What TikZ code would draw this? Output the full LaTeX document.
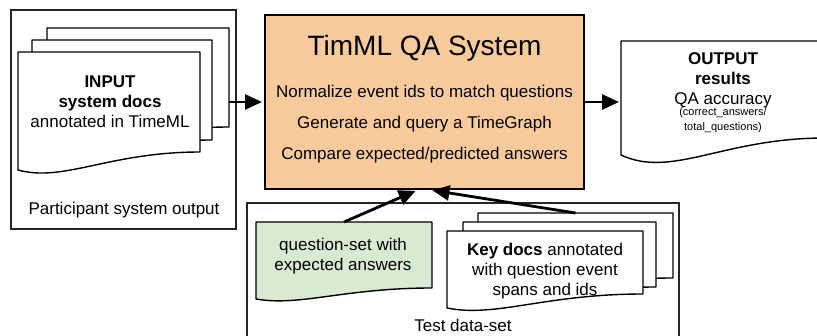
\documentclass[tikz,border=0pt]{standalone}
\usepackage{fontspec}
\setmainfont{Liberation Sans}
\usetikzlibrary{arrows.meta,calc}
\definecolor{peach}{HTML}{F9CB9C}
\definecolor{mint}{HTML}{D9EAD3}
% #1 frame node, #2 drop of the left end, #3 dip factor, #4 style
\newcommand{\docshape}[4]{%
  \path[#4] (#1.north west) -- (#1.north east) -- (#1.south east)
    .. controls ($(#1.south west)!0.5!(#1.south east)$) and ($(#1.south west)!0.25!(#1.south east)+(0,#2*#3)$)
    .. ($(#1.south west)+(0,#2)$) -- cycle;}
\begin{document}
\begin{tikzpicture}[x=1pt,y=-1pt,
  docfrm/.style={inner sep=0pt,outer sep=0pt,draw=none},
  docline/.style={draw=black,line width=1.4pt,fill=white,line join=round},
  txt/.style={font=\fontsize{17}{20}\selectfont,align=center,inner sep=0pt},
  box/.style={draw=black!85,line width=1.2pt,inner sep=0pt,outer sep=0pt},
  arr/.style={line width=2.8pt,shorten >=2pt,-{Triangle[length=17pt,width=15pt]}}]
\useasboundingbox (0,0) rectangle (817,336);
\clip (0,0) rectangle (817,336);
% containers
\node[box,minimum width=225pt,minimum height=219pt] (partbox) at (123.5,119.5) {};
\node[box,minimum width=432pt,minimum height=142pt] (testbox) at (463,274) {};
% input docs
\node[docfrm,minimum width=182pt,minimum height=99pt] (inB) at (138,77.5) {};
\docshape{inB}{18}{1.7}{docline}
\node[docfrm,minimum width=180pt,minimum height=100pt] (inM) at (122,90) {};
\docshape{inM}{18}{1.7}{docline}
\node[docfrm,minimum width=182pt,minimum height=100pt] (inF) at (109,102) {};
\docshape{inF}{18}{1.7}{docline}
\node[txt] (inT) at (110,102) {\textbf{INPUT}\\\textbf{system docs}\\annotated in TimeML};
\node[txt] (partlbl) at (124,210) {Participant system output};
% central system
\node[draw=black,line width=2pt,fill=peach,minimum width=319pt,minimum height=174pt,inner sep=0pt] (sys) at (424.5,102) {};
\node[font=\fontsize{28}{32}\selectfont,inner sep=0pt] (systitle) at (424.5,48) {TimML QA System};
\node[txt,font=\fontsize{17}{31}\selectfont] (sysbody) at (424.5,124) {Normalize event ids to match questions\\Generate and query a TimeGraph\\Compare expected/predicted answers};
% output
\node[docfrm,minimum width=204pt,minimum height=97pt] (out) at (723,89.5) {};
\docshape{out}{17}{2.4}{docline}
\node[txt] (outT) at (723,80) {\textbf{OUTPUT}\\\textbf{results}\\QA accuracy};
\node[txt,font=\fontsize{11}{15}\selectfont] (outS) at (723,120) {(correct\_answers/\\total\_questions)};
% question set
\node[docfrm,minimum width=176pt,minimum height=66pt] (qs) at (344,255) {};
\docshape{qs}{11}{1.7}{docline,fill=mint}
\node[txt] (qsT) at (343,256) {question-set with\\expected answers};
% key docs
\node[docfrm,minimum width=195pt,minimum height=65pt] (keyB) at (575.5,245.5) {};
\docshape{keyB}{14}{1.7}{docline}
\node[docfrm,minimum width=193pt,minimum height=65pt] (keyM) at (559.5,254.5) {};
\docshape{keyM}{14}{1.7}{docline}
\node[docfrm,minimum width=196pt,minimum height=63pt] (keyF) at (545,262.5) {};
\docshape{keyF}{14}{1.7}{docline}
\node[txt] (keyT) at (545,271) {\textbf{Key docs} annotated\\with question event\\spans and ids};
\node[txt] (testlbl) at (463,325) {Test data-set};
% connectors
\draw[arr] (inB.east |- sys.west) -- (sys.west);
\draw[arr] (sys.east) -- (sys.east -| out.west);
\draw[arr] (qs.north) -- ([xshift=-7pt]sys.south);
\draw[arr] (keyB.north) -- ([xshift=6pt]sys.south);
\end{tikzpicture}
\end{document}
